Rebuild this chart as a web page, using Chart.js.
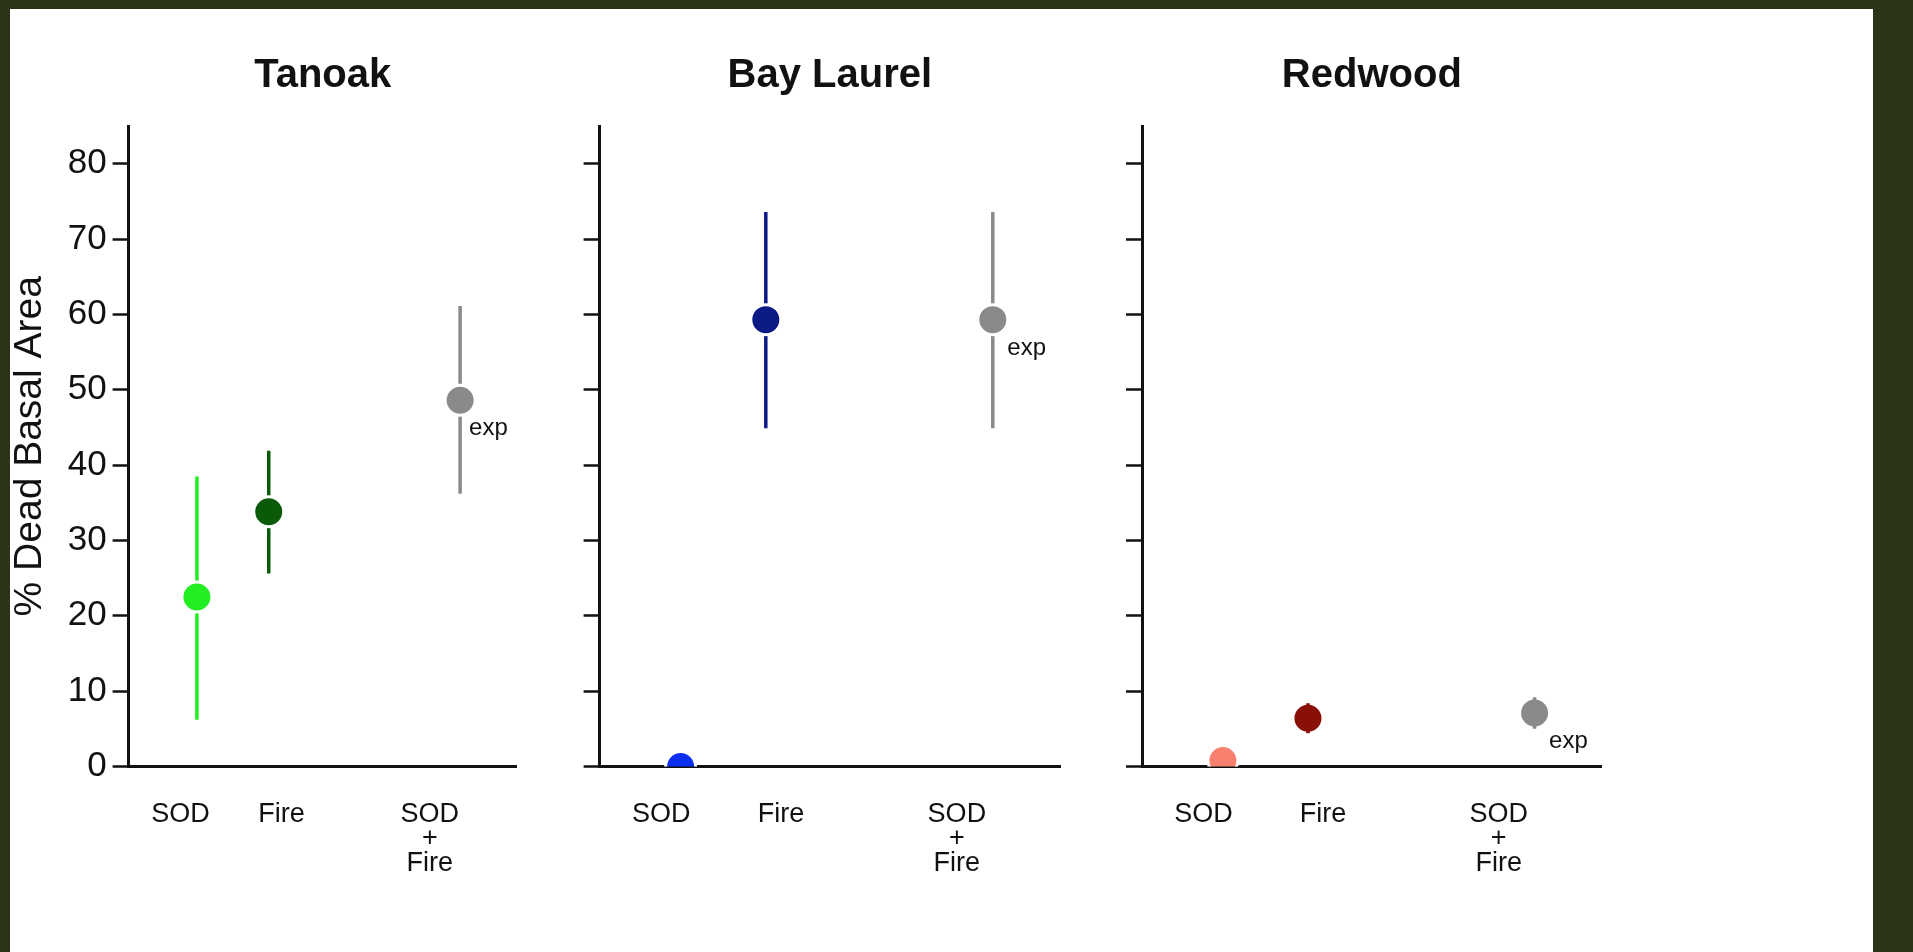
<!DOCTYPE html>
<html>
<head>
<meta charset="utf-8">
<script src="https://cdn.jsdelivr.net/npm/chart.js@4.4.1/dist/chart.umd.min.js"></script>
<style>
  body { margin: 0; width: 1913px; height: 952px; overflow: hidden; position: relative; background: #2b3419; }
  #sheet { position: absolute; left: 10px; top: 9px; width: 1863px; height: 943px; background: #fff; }
  canvas { position: absolute; top: 0; }
</style>
</head>
<body>
<div id="sheet"></div>
<canvas id="tanoak" width="560" height="952" style="left:0px"></canvas>
<canvas id="bay" width="540" height="952" style="left:540px"></canvas>
<canvas id="redwood" width="560" height="952" style="left:1080px"></canvas>
<script>
// ---------------------------------------------------------------------------
//  Data
// ---------------------------------------------------------------------------
const treatments = ['SOD', 'Fire', ['SOD', '+', 'Fire']];
const species    = ['Tanoak', 'Bay Laurel', 'Redwood'];
const yTickVals  = [0, 10, 20, 30, 40, 50, 60, 70, 80];
const yLabel     = '% Dead Basal Area';
const expText    = 'exp';

const tanoakMean  = [22.5, 33.8, 48.6];
const tanoakLow   = [6.2, 25.6, 36.2];
const tanoakHigh  = [38.5, 41.9, 61.1];

const bayMean     = [0, 59.3, 59.3];
const bayLow      = [null, 44.9, 44.9];
const bayHigh     = [null, 73.6, 73.6];

const redwoodMean = [0.8, 6.4, 7.1];
const redwoodLow  = [null, 4.4, 5.0];
const redwoodHigh = [null, 8.4, 9.2];

// ---------------------------------------------------------------------------
//  Layout / style
// ---------------------------------------------------------------------------
const FONT    = '"Liberation Sans", Arial, Helvetica, sans-serif';
const INK     = '#111';
const POINT_X = [1.76, 3.61, 8.54];   // where the dots sit on the 0..10 x range
const LABEL_X = [1.34, 3.94, 7.76];   // where the treatment labels sit

const panels = [
  { id: 'tanoak',  title: species[0], mean: tanoakMean,  low: tanoakLow,  high: tanoakHigh,
    colors: ['#22ee22', '#0a5a0a', '#8a8a8a'], yWidth: 128.6, padRight: 43.2, showY: true,  expDx: 9,    barsOnTop: false },
  { id: 'bay',     title: species[1], mean: bayMean,     low: bayLow,     high: bayHigh,
    colors: ['#0b2ef0', '#0c1a85', '#8a8a8a'], yWidth: 59.6,  padRight: 20,   showY: false, expDx: 14.5, barsOnTop: false },
  { id: 'redwood', title: species[2], mean: redwoodMean, low: redwoodLow, high: redwoodHigh,
    colors: ['#f8806e', '#8a0f05', '#8a8a8a'], yWidth: 62,    padRight: 38.3, showY: false, expDx: 14.5, barsOnTop: true },
];

// "exp" note next to the combined-treatment dot
const expLabel = {
  id: 'expLabel',
  afterDatasetsDraw(chart, args, opts) {
    const pt = chart.getDatasetMeta(0).data[opts.index];
    if (!pt) return;
    const ctx = chart.ctx;
    ctx.save();
    ctx.font = `24px ${FONT}`;
    ctx.fillStyle = INK;
    ctx.textBaseline = 'middle';
    ctx.fillText(opts.text, pt.x + opts.dx, pt.y + opts.dy);
    ctx.restore();
  }
};

function buildPanel(p) {
  const markers = {
    label: p.title,
    data: p.mean.map((v, i) => ({ x: POINT_X[i], y: v })),
    pointBackgroundColor: p.colors,
    pointBorderColor: '#fff',
    pointBorderWidth: 3,
    pointRadius: 15,
    pointHoverRadius: 15,
    showLine: false,
    order: 0,
    clip: { left: false, right: false, top: false, bottom: 0 },
  };

  const bars = [];
  p.mean.forEach((m, i) => {
    if (p.low[i] == null) return;
    bars.push({
      label: 'err' + i,
      data: [{ x: POINT_X[i], y: p.low[i] }, { x: POINT_X[i], y: p.high[i] }],
      showLine: true,
      borderColor: p.colors[i],
      borderWidth: 3.5,
      pointRadius: 0,
      pointHoverRadius: 0,
      order: p.barsOnTop ? -1 : 1,
    });
  });

  return new Chart(document.getElementById(p.id), {
    type: 'scatter',
    data: { datasets: [markers, ...bars] },
    options: {
      responsive: false,
      animation: false,
      events: [],
      layout: { padding: { left: 0, right: p.padRight, top: 0, bottom: 0 } },
      plugins: {
        legend: { display: false },
        tooltip: { enabled: false },
        title: {
          display: true, text: p.title, fullSize: false, color: INK,
          font: { family: FONT, size: 40, weight: 'bold', lineHeight: 1 },
          padding: { top: 55.5, bottom: 30.5 },
        },
        expLabel: { index: 2, text: expText, dx: p.expDx, dy: 28.5 },
      },
      scales: {
        x: {
          type: 'linear', min: 0, max: 10, z: 1,
          afterBuildTicks: s => { s.ticks = LABEL_X.map(v => ({ value: v })); },
          afterFit: s => { s.height = 185.5; },
          grid: { display: false, drawTicks: false },
          border: { display: true, color: INK, width: 3 },
          ticks: {
            color: INK, padding: 36, maxRotation: 0, autoSkip: false,
            font: { family: FONT, size: 27, lineHeight: 0.9 },
            callback: (v, i) => treatments[i],
          },
        },
        y: {
          min: 0, max: 85,
          afterBuildTicks: s => { s.ticks = yTickVals.map(v => ({ value: v })); },
          afterFit: s => { s.width = p.yWidth; },
          grid: { drawOnChartArea: false, drawTicks: true, tickLength: 16, tickWidth: 2.5, tickColor: INK },
          border: { color: INK, width: 3 },
          ticks: {
            color: p.showY ? INK : 'rgba(0,0,0,0)', padding: 6,
            font: { family: FONT, size: 35 },
          },
          title: {
            display: p.showY, text: yLabel, color: INK,
            font: { family: FONT, size: 39, lineHeight: 1 },
            padding: { top: 11, bottom: 0 },
          },
        },
      },
    },
    plugins: [expLabel],
  });
}

panels.forEach(buildPanel);
</script>
</body>
</html>
